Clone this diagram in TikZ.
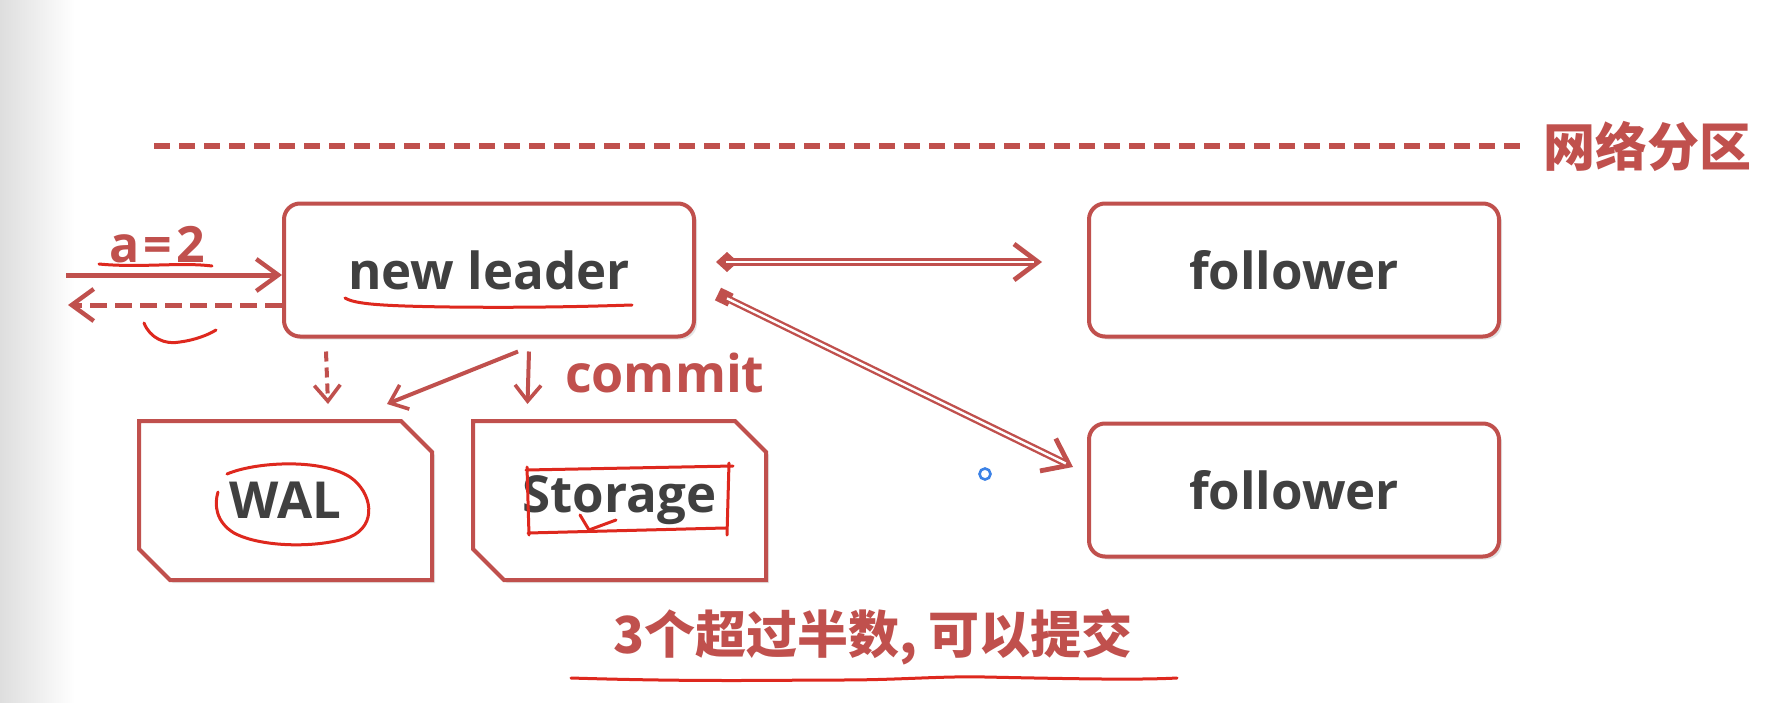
\documentclass[tikz,border=0pt]{standalone}
\usepackage{fontspec}
\setmainfont{Open Sans}
\newfontfamily\cjk{Noto Sans CJK SC}
\usetikzlibrary{arrows.meta,positioning,shapes.misc,shadows}
\definecolor{pptred}{RGB}{192,80,77}
\definecolor{txtgray}{RGB}{64,64,64}
\definecolor{penred}{RGB}{222,40,30}
\definecolor{cursorblue}{RGB}{60,130,230}

\begin{document}
\begin{tikzpicture}[x=0.5pt, y=-0.5pt,
      nbox/.style={draw=pptred, line width=2pt, fill=white, rounded corners=8pt,
                   minimum width=205pt, minimum height=66.5pt,
                   font=\fontsize{25.5}{30}\selectfont\bfseries, text=txtgray,
                   drop shadow={shadow xshift=1.5pt, shadow yshift=-1.5pt, opacity=0.2}},
      sbox/.style={chamfered rectangle, chamfered rectangle corners={north east, south west},
                   chamfered rectangle xsep=7pt, chamfered rectangle ysep=8.5pt,
                   draw=pptred, line width=2pt, fill=white,
                   minimum width=146.5pt, minimum height=79.5pt,
                   font=\fontsize{25.5}{30}\selectfont\bfseries, text=txtgray,
                   drop shadow={shadow xshift=1.5pt, shadow yshift=-1.5pt, opacity=0.2}},
      lbl/.style={font=\fontsize{26}{30}\selectfont\bfseries, text=pptred},
      cjklbl/.style={font=\cjk\fontsize{25.5}{30}\selectfont\bfseries, text=pptred},
      arr/.style={-{Straight Barb[length=11pt, width=16pt, line width=2.2pt]}, line width=2.5pt, draw=pptred},
      arrd/.style={-{Straight Barb[length=8pt, width=13pt, line width=1.8pt]}, line width=2pt, draw=pptred},
      dbl/.style={line width=3.6pt, draw=pptred,
                  postaction={draw=white, line width=1.2pt, -, shorten <=5pt, shorten >=4pt}},
      ann/.style={draw=penred, line width=1.5pt, line cap=round, line join=round}
  ]
    % page and left grey edge
    \useasboundingbox (0,0) rectangle (1784,702);
    \fill[white] (0,0) rectangle (1784,702);
    \shade[left color=black!13, right color=white] (0,0) rectangle (75,702);

    % partition line
    \draw[pptred, line width=2.6pt, dash pattern=on 8pt off 4.5pt] (154,146) coordinate (pl) -- (1522,146) coordinate (pr);
    \node[cjklbl, font=\cjk\fontsize{26}{30}\selectfont\bfseries, right=7pt of pr] (part) {网络分区};

    % nodes
    \node[nbox] (leader) at (489,270) {new leader};
    \node[nbox, right=195.5pt of leader] (fol1) {follower};
    \node[nbox, below=41.5pt of fol1] (fol2) {follower};
    \node[sbox] (wal) at (285.5,500.5) {WAL};
    \node[sbox, right=18.5pt of wal] (store) {Storage};

    % client side
    \coordinate (inL) at (66,275);
    \coordinate (outL) at (68,305);
    \node[lbl, font=\fontsize{25}{30}\selectfont\bfseries] (aval) at (157,245) {a\kern2pt=\kern2pt2};
    \draw[arr] (inL) -- (inL -| leader.west);
    \draw[arr, dash pattern=on 8.5pt off 4pt] (outL -| leader.west) -- (outL);

    % leader to disk
    \draw[arrd, dash pattern=on 5pt off 3pt] ([xshift=22pt, yshift=-6.5pt]leader.south west) -- ([xshift=21.25pt, yshift=7.5pt]wal.north);
    \draw[arrd] ([xshift=14.5pt, yshift=-6.5pt]leader.south) -- ([xshift=50.75pt, yshift=7.5pt]wal.north);
    \draw[arrd] ([xshift=20pt, yshift=-6.5pt]leader.south) -- ([xshift=-46pt, yshift=7.5pt]store.north);
    \node[lbl, anchor=west] (commit) at (558,373) {commit};

    % replication
    \draw[dbl, {Diamond[length=11pt, width=10pt, line width=0pt]}-{Straight Barb[length=12pt, width=18pt, line width=2.4pt]}]
      ([xshift=10pt, yshift=4pt]leader.east) -- ([xshift=-22.5pt, yshift=4pt]fol1.west);
    \draw[dbl, {Square[length=7pt, width=7pt, line width=0pt]}-{Straight Barb[length=12pt, width=18pt, line width=2.4pt]}]
      ([xshift=11pt, yshift=-12pt]leader.east) -- ([xshift=-7pt, yshift=11.5pt]fol2.west);

    % result
    \node[cjklbl] (result) at (873,637) {3个超过半数, 可以提交};

    % pen marks
    \draw[ann] (99,264) .. controls (140,268) and (180,262) .. (212,266);
    \draw[ann] (345,298) .. controls (355,304) and (380,306) .. (450,307) .. controls (540,308) and (600,306) .. (632,305);
    \draw[ann] (144,323) .. controls (150,338) and (165,345) .. (180,342) .. controls (195,340) and (208,335) .. (216,330);
    \draw[ann] (227,474) .. controls (255,462) and (320,458) .. (350,477)
                .. controls (372,492) and (378,525) .. (350,537)
                .. controls (320,548) and (262,548) .. (234,533)
                .. controls (216,522) and (214,505) .. (218,492);
    \draw[ann] (526,470) -- (733,466) (729,463) -- (727,535) (725,528) -- (528,533) (529,535) -- (527,467);
    \draw[ann] (580,515) -- (589,530) -- (616,520);
    \draw[ann] (571,678) .. controls (700,682) and (780,680) .. (840,680) .. controls (900,680) and (940,676) .. (985,677) .. controls (1080,679) and (1140,680) .. (1177,678);
    \draw[cursorblue, line width=1.3pt] (985,474) circle (5.5);
  \end{tikzpicture}
\end{document}
